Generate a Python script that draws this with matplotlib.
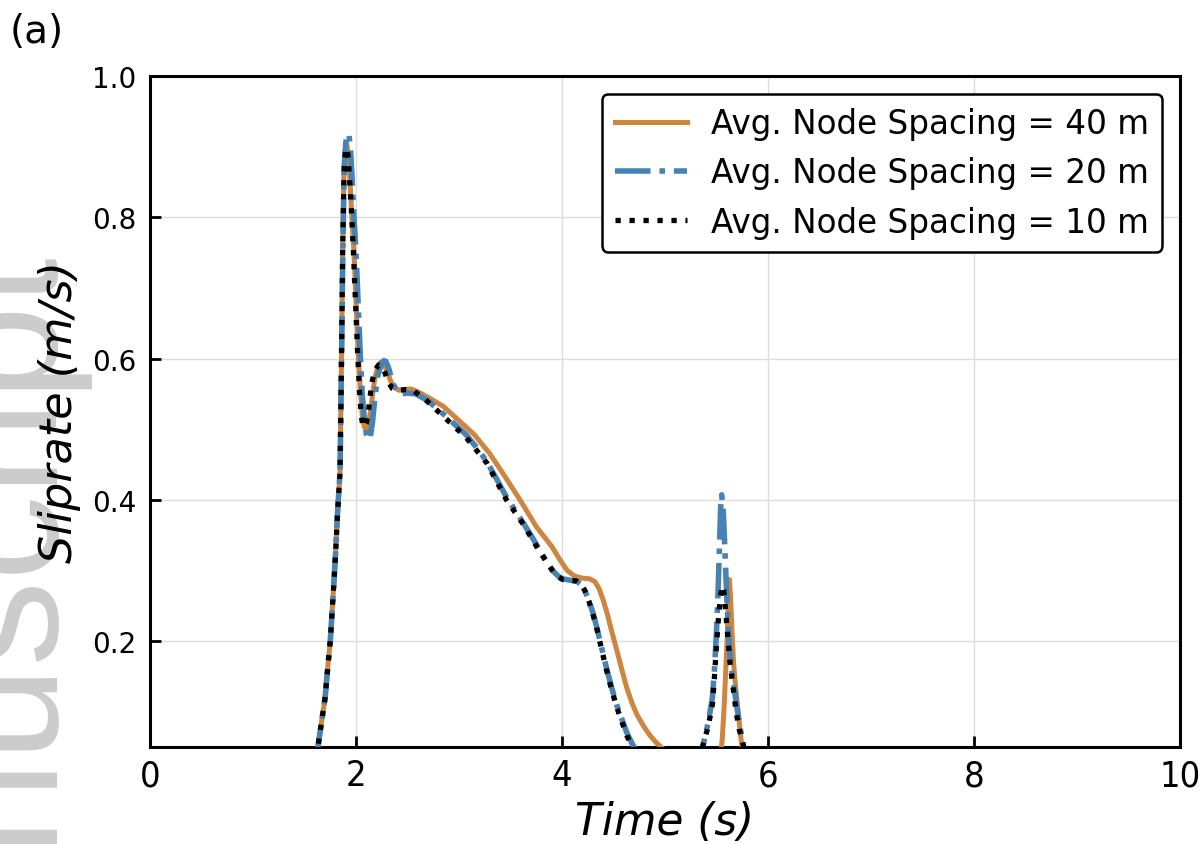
import matplotlib
matplotlib.use("Agg")
import matplotlib.pyplot as plt

# Slip-rate histories at one receiver for three mesh resolutions
t_40 = [0.0, 1.50, 1.60, 1.63, 1.67, 1.70, 1.73, 1.75, 1.78, 1.80, 1.82, 1.845, 1.86, 1.87,
        1.883, 1.895, 1.91, 1.925, 1.94, 1.96, 1.98, 2.00, 2.02, 2.04, 2.06, 2.08, 2.10, 2.12,
        2.14, 2.16, 2.18, 2.21, 2.24, 2.27, 2.30, 2.34, 2.38, 2.42, 2.47, 2.53, 2.60, 2.70,
        2.85, 3.00, 3.15, 3.30, 3.45, 3.60, 3.75, 3.90, 3.98, 4.05, 4.12, 4.20, 4.27, 4.32,
        4.36, 4.40, 4.44, 4.48, 4.53, 4.58, 4.63, 4.68, 4.73, 4.79, 4.85, 4.91, 4.96, 5.05,
        5.20, 5.50, 5.53, 5.555, 5.575, 5.59, 5.605, 5.615, 5.625, 5.635, 5.65, 5.665, 5.685,
        5.71, 5.735, 5.76, 5.80, 10.0]
v_40 = [0.0, 0.0, 0.03, 0.05, 0.09, 0.12, 0.17, 0.20, 0.27, 0.32, 0.38, 0.44, 0.61, 0.75,
        0.87, 0.893, 0.903, 0.89, 0.855, 0.80, 0.75, 0.68, 0.61, 0.56, 0.52, 0.503, 0.50, 0.507,
        0.525, 0.548, 0.57, 0.588, 0.595, 0.592, 0.582, 0.567, 0.558, 0.555, 0.556, 0.557, 0.553, 0.545,
        0.532, 0.512, 0.492, 0.465, 0.432, 0.398, 0.362, 0.334, 0.315, 0.300, 0.292, 0.289, 0.288, 0.284,
        0.274, 0.258, 0.238, 0.215, 0.188, 0.160, 0.133, 0.112, 0.095, 0.080, 0.067, 0.057, 0.050, 0.040,
        0.0, 0.0, 0.025, 0.06, 0.11, 0.16, 0.21, 0.255, 0.287, 0.265, 0.215, 0.17, 0.135,
        0.10, 0.065, 0.035, 0.0, 0.0]

t_20 = [0.0, 1.50, 1.60, 1.63, 1.67, 1.70, 1.73, 1.75, 1.78, 1.80, 1.82, 1.845, 1.86, 1.872,
        1.885, 1.90, 1.915, 1.93, 1.945, 1.96, 1.98, 2.00, 2.02, 2.04, 2.06, 2.08, 2.10, 2.12,
        2.14, 2.16, 2.18, 2.21, 2.24, 2.27, 2.29, 2.32, 2.35, 2.39, 2.44, 2.50, 2.58, 2.70,
        2.82, 2.95, 3.07, 3.17, 3.27, 3.37, 3.46, 3.54, 3.62, 3.71, 3.79, 3.86, 3.92, 3.97,
        4.01, 4.08, 4.14, 4.18, 4.22, 4.26, 4.30, 4.34, 4.38, 4.43, 4.48, 4.53, 4.58, 4.63,
        4.68, 4.72, 4.80, 5.30, 5.37, 5.42, 5.46, 5.48, 5.50, 5.515, 5.53, 5.54, 5.55, 5.565,
        5.58, 5.60, 5.625, 5.65, 5.68, 5.72, 5.76, 5.82, 10.0]
v_20 = [0.0, 0.0, 0.03, 0.05, 0.09, 0.12, 0.17, 0.20, 0.27, 0.32, 0.38, 0.44, 0.61, 0.75,
        0.87, 0.905, 0.917, 0.918, 0.90, 0.86, 0.80, 0.75, 0.68, 0.61, 0.55, 0.515, 0.493, 0.485,
        0.49, 0.51, 0.54, 0.575, 0.59, 0.597, 0.596, 0.585, 0.568, 0.555, 0.55, 0.551, 0.550, 0.540,
        0.525, 0.508, 0.492, 0.474, 0.454, 0.428, 0.404, 0.386, 0.368, 0.347, 0.327, 0.310, 0.298, 0.291,
        0.288, 0.286, 0.285, 0.281, 0.272, 0.258, 0.240, 0.218, 0.193, 0.163, 0.135, 0.110, 0.090, 0.070,
        0.055, 0.045, 0.02, 0.0, 0.053, 0.085, 0.12, 0.16, 0.215, 0.27, 0.34, 0.39, 0.407, 0.385,
        0.335, 0.26, 0.19, 0.155, 0.124, 0.085, 0.053, 0.0, 0.0]

t_10 = [0.0, 1.50, 1.60, 1.63, 1.67, 1.70, 1.73, 1.75, 1.78, 1.80, 1.82, 1.845, 1.86, 1.87,
        1.883, 1.895, 1.905, 1.92, 1.935, 1.955, 1.975, 1.995, 2.015, 2.035, 2.05, 2.065, 2.08,
        2.10, 2.12, 2.14, 2.16, 2.19, 2.22, 2.25, 2.28, 2.31, 2.35, 2.41, 2.48, 2.55, 2.65,
        2.82, 3.07, 3.27, 3.46, 3.62, 3.79, 3.92, 3.97, 4.01, 4.08, 4.14, 4.18, 4.22, 4.26,
        4.30, 4.34, 4.38, 4.43, 4.48, 4.53, 4.58, 4.63, 4.67, 4.72, 4.80, 5.30, 5.37, 5.42,
        5.46, 5.48, 5.50, 5.52, 5.54, 5.555, 5.57, 5.59, 5.61, 5.63, 5.66, 5.69, 5.72, 5.76,
        5.82, 10.0]
v_10 = [0.0, 0.0, 0.03, 0.05, 0.09, 0.12, 0.17, 0.20, 0.27, 0.32, 0.38, 0.44, 0.61, 0.75,
        0.86, 0.89, 0.898, 0.89, 0.86, 0.81, 0.75, 0.68, 0.61, 0.55, 0.52, 0.506, 0.503,
        0.508, 0.525, 0.55, 0.57, 0.585, 0.591, 0.590, 0.58, 0.568, 0.558, 0.555, 0.556, 0.555, 0.545,
        0.522, 0.488, 0.452, 0.400, 0.366, 0.325, 0.297, 0.290, 0.287, 0.286, 0.285, 0.281, 0.272, 0.257,
        0.238, 0.216, 0.191, 0.160, 0.132, 0.107, 0.086, 0.066, 0.053, 0.042, 0.02, 0.0, 0.053, 0.08,
        0.11, 0.15, 0.195, 0.235, 0.265, 0.278, 0.272, 0.24, 0.205, 0.171, 0.135, 0.10, 0.075, 0.053,
        0.0, 0.0]

labels = ["Avg. Node Spacing = 40 m", "Avg. Node Spacing = 20 m", "Avg. Node Spacing = 10 m"]
x_ticks = [0, 2, 4, 6, 8, 10]
y_ticks = [0.2, 0.4, 0.6, 0.8, 1.0]

fig = plt.figure(figsize=(12.04, 8.45), dpi=100)
ax = fig.add_axes([0.1246, 0.1148, 0.8555, 0.7941])

ax.plot(t_40, v_40, color="#cd853f", lw=3.6, ls="-", label=labels[0], zorder=3)
ax.plot(t_20, v_20, color="#4682b4", lw=4.0, ls="-.", label=labels[1], zorder=4)
ax.plot(t_10, v_10, color="black", lw=3.8, ls=":", label=labels[2], zorder=5)

ax.set_xlim(0, 10)
ax.set_ylim(0.05, 1.0)
ax.set_xticks(x_ticks)
ax.set_yticks(y_ticks)
ax.set_yticklabels([f"{v:.1f}" for v in y_ticks])
ax.grid(True, color="#dddddd", lw=1.0)
ax.set_axisbelow(True)

for side in ("top", "right", "bottom", "left"):
    ax.spines[side].set_linewidth(2.2)
ax.tick_params(direction="in", length=8, width=2, top=False, right=False)
ax.tick_params(axis="y", pad=10)
ax.tick_params(axis="x", pad=8)
for lab in ax.get_xticklabels():
    lab.set_fontsize(26)
    lab.set_fontstretch("condensed")
for lab in ax.get_yticklabels():
    lab.set_fontsize(20)

ax.set_xlabel("Time (s)", fontsize=31.5, style="italic", labelpad=6)
ax.set_ylabel("Sliprate (m/s)", fontsize=32, style="italic", labelpad=8)

leg = ax.legend(loc="upper right", fontsize=23.5, frameon=True, fancybox=True,
                handlelength=2.2, handletextpad=0.75, borderaxespad=0.55,
                labelspacing=0.5, borderpad=0.4)
leg.get_frame().set_edgecolor("black")
leg.get_frame().set_linewidth(1.8)
leg.get_frame().set_alpha(1.0)

fig.text(0.008, 0.962, "(a)", fontsize=28, ha="left", va="center")

# faint vertical watermark along the left margin
fig.text(47 / 1204, 1 - 245 / 845, "manuscript", rotation=90, rotation_mode="anchor",
         ha="right", va="baseline", fontsize=123, color="#cccccc",
         family="Liberation Sans", zorder=-1)

fig.savefig("out.png", dpi=100)
